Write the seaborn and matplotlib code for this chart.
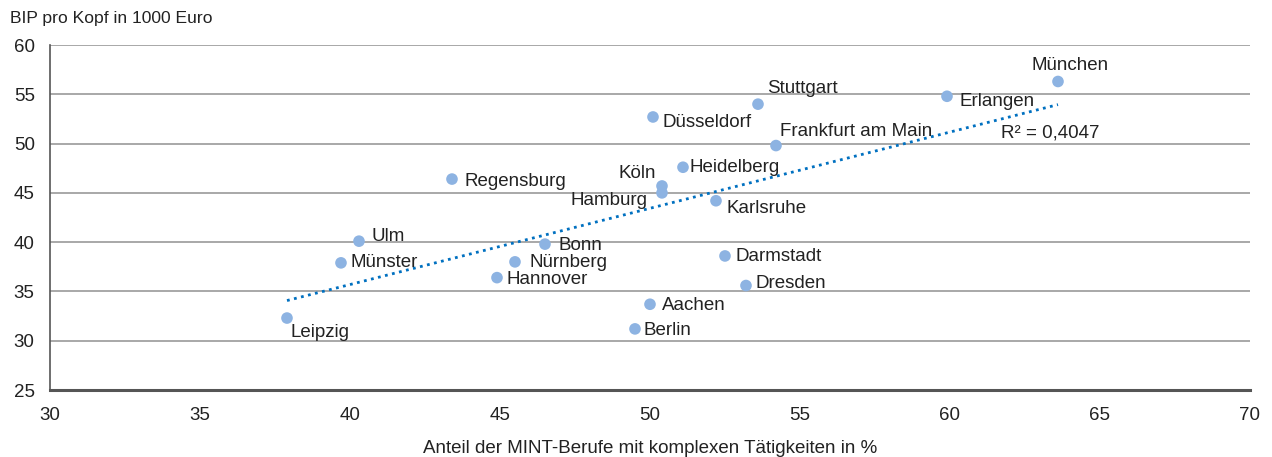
import numpy as np
import pandas as pd
import matplotlib
matplotlib.use('Agg')
import matplotlib.pyplot as plt
import seaborn as sns

# Daten
staedte = ['München', 'Erlangen', 'Stuttgart', 'Düsseldorf', 'Frankfurt am Main',
           'Heidelberg', 'Köln', 'Hamburg', 'Karlsruhe', 'Regensburg', 'Ulm', 'Bonn',
           'Münster', 'Nürnberg', 'Hannover', 'Darmstadt', 'Dresden', 'Aachen',
           'Leipzig', 'Berlin']
mint_anteil = [63.6, 59.9, 53.6, 50.1, 54.2, 51.1, 50.4, 50.4, 52.2, 43.4, 40.3, 46.5,
               39.7, 45.5, 44.9, 52.5, 53.2, 50.0, 37.9, 49.5]
bip_kopf = [56.3, 54.8, 54.0, 52.7, 49.8, 47.6, 45.7, 45.0, 44.2, 46.4, 40.1, 39.8,
            37.9, 38.0, 36.4, 38.6, 35.6, 33.7, 32.3, 31.2]

# Beschriftungsversatz in Pixel (dx, dy, ha)
versatz = {
    'München': (12, 16, 'center'), 'Erlangen': (13, -5, 'left'),
    'Stuttgart': (9, 16, 'left'), 'Düsseldorf': (10, -6, 'left'),
    'Frankfurt am Main': (4, 14, 'left'), 'Heidelberg': (7, 0, 'left'),
    'Köln': (-6, 12, 'right'), 'Hamburg': (-14, -8, 'right'),
    'Karlsruhe': (11, -8, 'left'), 'Regensburg': (13, -2, 'left'),
    'Ulm': (13, 5, 'left'), 'Bonn': (14, -1, 'left'), 'Münster': (10, 0, 'left'),
    'Nürnberg': (15, -1, 'left'), 'Hannover': (10, -2, 'left'),
    'Darmstadt': (11, -1, 'left'), 'Dresden': (10, 2, 'left'),
    'Aachen': (12, -1, 'left'), 'Leipzig': (4, -14, 'left'), 'Berlin': (9, -2, 'left'),
}

df = pd.DataFrame({'Stadt': staedte, 'MINT': mint_anteil, 'BIP': bip_kopf})

sns.set_style('white')
plt.rcParams['font.family'] = ['Liberation Sans', 'DejaVu Sans']
fs = 13.5

fig = plt.figure(figsize=(12.72, 4.57), dpi=100)
ax = fig.add_axes([0.0393, 0.1466, 0.9434, 0.7549])

ax.yaxis.grid(True, color='#9a9a9a', linewidth=1.2)
ax.set_axisbelow(True)

# Trendlinie
sns.regplot(data=df, x='MINT', y='BIP', ax=ax, ci=None, scatter=False,
            line_kws={'color': '#0070C0', 'linestyle': (0, (1, 1.6)), 'linewidth': 2})
sns.scatterplot(data=df, x='MINT', y='BIP', ax=ax, color='#8DB3E2', s=70,
                edgecolor='none', zorder=3)

for s, x, y in zip(staedte, mint_anteil, bip_kopf):
    dx, dy, ha = versatz[s]
    ax.annotate(s, (x, y), xytext=(dx, dy), textcoords='offset pixels',
                ha=ha, va='center', fontsize=fs, color='#222222')

ax.text(61.7, 51.1, 'R² = 0,4047', fontsize=fs, color='#222222', va='center')

ax.set_xlim(30, 70)
ax.set_ylim(25, 60)
ax.set_xticks(range(30, 71, 5))
ax.set_yticks(range(25, 61, 5))
ax.tick_params(length=0, labelsize=fs, colors='#222222')
ax.tick_params(axis='y', pad=11)
ax.tick_params(axis='x', pad=12)
ax.set_xlabel('Anteil der MINT-Berufe mit komplexen Tätigkeiten in %', fontsize=fs,
              color='#222222', labelpad=12)
ax.set_ylabel('')
fig.text(0.008, 0.96, 'BIP pro Kopf in 1000 Euro', fontsize=12.6, color='#222222',
         va='center')

for sp in ['top', 'right']:
    ax.spines[sp].set_visible(False)
ax.spines['left'].set_color('#555555')
ax.spines['left'].set_linewidth(1.2)
ax.spines['bottom'].set_color('#555555')
ax.spines['bottom'].set_linewidth(2.2)

fig.savefig('out.png', dpi=100)
